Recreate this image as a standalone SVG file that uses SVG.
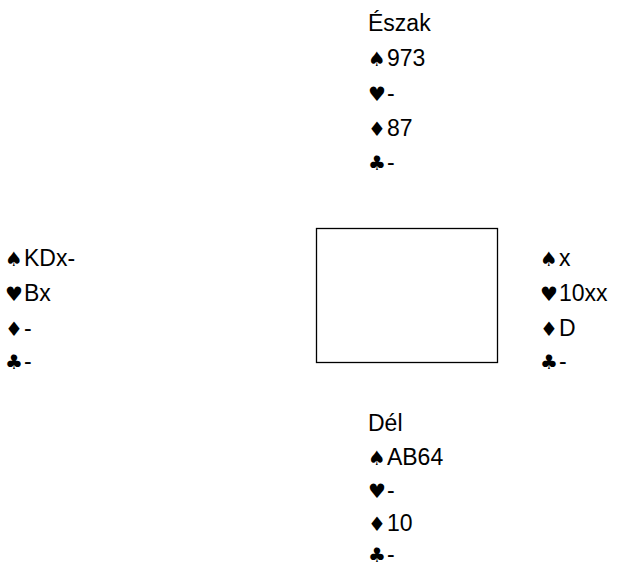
<svg xmlns="http://www.w3.org/2000/svg" width="624" height="566" viewBox="0 0 624 566">
<style>
text{font-family:"Liberation Sans",Arial,sans-serif;font-size:23px;fill:#000}
.s{font-family:"DejaVu Sans",sans-serif;font-size:20px}
</style>
<rect width="624" height="566" fill="#fff"/>
<g id="table"><rect x="316.5" y="228.5" width="181" height="134" fill="none" stroke="#000" stroke-width="1.3"/></g>
<g id="north">
<text x="368" y="31">Észak</text>
<text x="368" y="66"><tspan class="s">♠</tspan><tspan dx="1">973</tspan></text>
<text x="368" y="101"><tspan class="s">♥</tspan><tspan dx="1">-</tspan></text>
<text x="368" y="136"><tspan class="s">♦</tspan><tspan dx="1">87</tspan></text>
<text x="368" y="170"><tspan class="s">♣</tspan><tspan dx="1">-</tspan></text>
</g>
<g id="west">
<text x="5" y="266"><tspan class="s">♠</tspan><tspan dx="1">KDx-</tspan></text>
<text x="5" y="301"><tspan class="s">♥</tspan><tspan dx="1">Bx</tspan></text>
<text x="5" y="336"><tspan class="s">♦</tspan><tspan dx="1">-</tspan></text>
<text x="5" y="369"><tspan class="s">♣</tspan><tspan dx="1">-</tspan></text>
</g>
<g id="east">
<text x="540" y="266"><tspan class="s">♠</tspan><tspan dx="1">x</tspan></text>
<text x="540" y="301"><tspan class="s">♥</tspan><tspan dx="1">10xx</tspan></text>
<text x="540" y="336"><tspan class="s">♦</tspan><tspan dx="1">D</tspan></text>
<text x="540" y="369"><tspan class="s">♣</tspan><tspan dx="1">-</tspan></text>
</g>
<g id="south">
<text x="368" y="431">Dél</text>
<text x="368" y="464.5"><tspan class="s">♠</tspan><tspan dx="1">AB64</tspan></text>
<text x="368" y="498"><tspan class="s">♥</tspan><tspan dx="1">-</tspan></text>
<text x="368" y="531"><tspan class="s">♦</tspan><tspan dx="1">10</tspan></text>
<text x="368" y="562"><tspan class="s">♣</tspan><tspan dx="1">-</tspan></text>
</g>
</svg>
